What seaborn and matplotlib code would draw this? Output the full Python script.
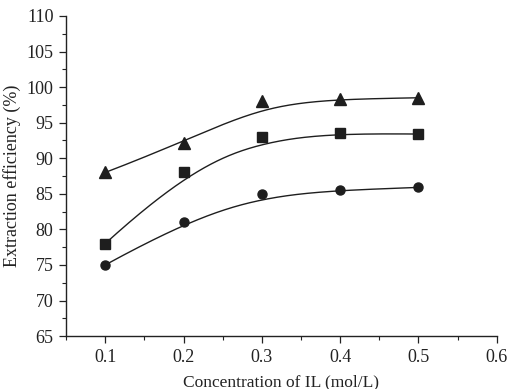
import numpy as np
import pandas as pd
import matplotlib
matplotlib.use("Agg")
import matplotlib.pyplot as plt
import seaborn as sns
from matplotlib.ticker import MultipleLocator

conc = [0.1, 0.2, 0.3, 0.4, 0.5]
tri_vals = [88.0, 92.2, 98.0, 98.3, 98.5]
sq_vals = [78.0, 88.0, 93.0, 93.5, 93.4]
circ_vals = [75.0, 81.0, 85.0, 85.5, 85.9]
xlabel = "Concentration of IL (mol/L)"
ylabel = "Extraction efficiency (%)"


def bspline_curve(px, py, k=3, n=300):
    # clamped cubic B-spline using the data points as control points
    P = np.column_stack([px, py]).astype(float)
    m = len(P)
    inner = np.linspace(0, 1, m - k + 1)[1:-1]
    t = np.concatenate([np.zeros(k + 1), inner, np.ones(k + 1)])
    us = np.linspace(0, 1, n)
    out = []
    for u in us:
        N = np.zeros(len(t) - 1)
        for i in range(len(t) - 1):
            if (t[i] <= u < t[i + 1]) or (u == 1.0 and t[i] < t[i + 1] == 1.0):
                N[i] = 1.0
        for d in range(1, k + 1):
            Nn = np.zeros(len(t) - 1 - d)
            for i in range(len(Nn)):
                a = 0.0
                if t[i + d] != t[i]:
                    a = (u - t[i]) / (t[i + d] - t[i]) * N[i]
                b = 0.0
                if t[i + d + 1] != t[i + 1]:
                    b = (t[i + d + 1] - u) / (t[i + d + 1] - t[i + 1]) * N[i + 1]
                Nn[i] = a + b
            N = Nn
        out.append(N[:m] @ P)
    out = np.array(out)
    return out[:, 0], out[:, 1]


sns.set_theme(style="ticks")
plt.rcParams['font.family'] = ['Liberation Serif', 'DejaVu Serif']

fig = plt.figure(figsize=(5.08, 3.89), dpi=100)
ax = fig.add_axes([0.130, 0.136, 0.848, 0.823])

col = '#1e1e1e'
series = [(tri_vals, '^', 8), (sq_vals, 's', 6.5), (circ_vals, 'o', 6.5)]
for vals, mk, ms in series:
    cx, cy = bspline_curve(conc, vals)
    sns.lineplot(x=cx, y=cy, ax=ax, color=col, lw=1.0, legend=False, sort=False)
    df = pd.DataFrame({'x': conc, 'y': vals})
    ax.plot(df['x'], df['y'], linestyle='none', marker=mk, ms=ms, color=col, mec=col)

ax.set_xticks([0.1, 0.2, 0.3, 0.4, 0.5, 0.6])
ax.set_xticklabels(['0.1', '0.2', '0.3', '0.4', '0.5', '0.6'])
ax.xaxis.set_minor_locator(MultipleLocator(0.05))
ax.yaxis.set_major_locator(MultipleLocator(5))
ax.yaxis.set_minor_locator(MultipleLocator(2.5))
ax.set_xlim(0.05, 0.6)
ax.set_ylim(65, 110)
ax.tick_params(which='major', direction='out', length=5, width=0.9, colors='#222', labelsize=13, pad=4)
ax.tick_params(which='minor', direction='out', length=3, width=0.8, colors='#222')
for s in ['top', 'right']:
    ax.spines[s].set_visible(False)
for s in ['left', 'bottom']:
    ax.spines[s].set_color('#222')
    ax.spines[s].set_linewidth(1.0)
ax.set_xlabel(xlabel, fontsize=12.5, color='#222', labelpad=6)
ax.set_ylabel(ylabel, fontsize=13, color='#222', labelpad=4)

fig.savefig('out.png', dpi=100)
